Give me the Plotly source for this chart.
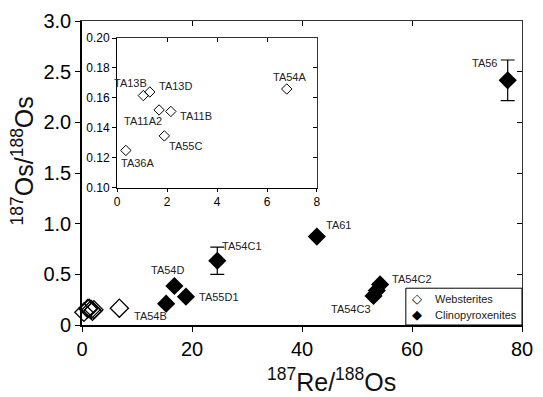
import plotly.graph_objects as go

# Websterites (open diamonds), shown in main plot and inset
web_names = ["TA36A", "TA13B", "TA13D", "TA11A2", "TA11B", "TA55C", "TA54A"]
web_main_labels = ["", "", "", "", "", "", "TA54B"]
web_x = [0.35, 1.05, 1.31, 1.68, 2.15, 1.89, 6.79]
web_y = [0.125, 0.1616, 0.164, 0.152, 0.151, 0.1347, 0.166]

# Clinopyroxenites (filled diamonds)
cpx_names = ["", "TA54D", "TA55D1", "TA54C1", "TA61", "TA54C3", "", "TA54C2", "TA56"]
cpx_x = [15.3, 16.8, 18.9, 24.6, 42.7, 53.0, 53.6, 54.2, 77.4]
cpx_y = [0.21, 0.385, 0.28, 0.634, 0.873, 0.287, 0.34, 0.40, 2.415]
cpx_err = [None, None, None, 0.135, None, None, None, None, 0.2]

main_xticks = [0, 20, 40, 60, 80]
main_yticks = [0, 0.5, 1.0, 1.5, 2.0, 2.5, 3.0]
main_yticktext = ["0", "0.5", "1.0", "1.5", "2.0", "2.5", "3.0"]
inset_xticks = [0, 2, 4, 6, 8]
inset_yticks = [0.10, 0.12, 0.14, 0.16, 0.18, 0.20]

legend_names = ["Websterites", "Clinopyroxenites"]
legend_glyphs = ["\u25C7", "\u25C6"]

# label offsets (pixels) and anchors
cpx_lab = {
    "TA54D": ("center", -7, 16), "TA55D1": ("left", 11, 0), "TA54C1": ("left", 3, 15),
    "TA61": ("left", 7, 12), "TA54C3": ("right", -1, -13), "TA54C2": ("left", 10, 5),
    "TA56": ("right", -9, 17),
}
web_main_lab = {"TA54B": ("left", 13, -8)}
web_inset_lab = {
    "TA36A": ("center", 12, -13), "TA13B": ("right", 6, 13), "TA13D": ("left", 7, 6),
    "TA11A2": ("center", -16, -11), "TA11B": ("left", 7, -5), "TA55C": ("left", 3, -10),
    "TA54A": ("center", 3, 12),
}

FONT = "Arial, Liberation Sans, sans-serif"
fig = go.Figure()

fig.add_trace(go.Scatter(
    x=web_x, y=web_y, mode="markers", name="Websterites", showlegend=False,
    marker=dict(symbol="diamond-open", size=14, color="black", line=dict(width=1.3)),
    cliponaxis=False, xaxis="x", yaxis="y"))
fig.add_trace(go.Scatter(
    x=cpx_x, y=cpx_y, mode="markers", name="Clinopyroxenites", showlegend=False,
    marker=dict(symbol="diamond", size=14, color="black"),
    error_y=dict(type="data", array=cpx_err, symmetric=True, color="black", thickness=1.2, width=7),
    cliponaxis=False, xaxis="x", yaxis="y"))
fig.add_trace(go.Scatter(
    x=web_x, y=web_y, mode="markers", showlegend=False,
    marker=dict(symbol="diamond-open", size=8, color="black", line=dict(width=1)),
    cliponaxis=False, xaxis="x2", yaxis="y2"))

ann = []
for n, x, y in zip(cpx_names, cpx_x, cpx_y):
    if n in cpx_lab:
        a, dx, dy = cpx_lab[n]
        ann.append(dict(x=x, y=y, xref="x", yref="y", text=n, showarrow=False,
                        xanchor=a, yanchor="middle", xshift=dx, yshift=dy,
                        font=dict(size=11, family=FONT, color="#222")))
for n, x, y in zip(web_main_labels, web_x, web_y):
    if n in web_main_lab:
        a, dx, dy = web_main_lab[n]
        ann.append(dict(x=x, y=y, xref="x", yref="y", text=n, showarrow=False,
                        xanchor=a, yanchor="middle", xshift=dx, yshift=dy,
                        font=dict(size=11, family=FONT, color="#222")))
for n, x, y in zip(web_names, web_x, web_y):
    if n in web_inset_lab:
        a, dx, dy = web_inset_lab[n]
        ann.append(dict(x=x, y=y, xref="x2", yref="y2", text=n, showarrow=False,
                        xanchor=a, yanchor="middle", xshift=dx, yshift=dy,
                        font=dict(size=11, family=FONT, color="#222")))

ann.append(dict(x=0.5676, y=-0.182, xref="paper", yref="paper", showarrow=False,
                text="<sup>187</sup>Re/<sup>188</sup>Os", xanchor="center", yanchor="middle",
                font=dict(size=25, family=FONT, color="#111")))
ann.append(dict(x=-0.135, y=0.54, xref="paper", yref="paper", showarrow=False, textangle=-90,
                text="<sup>187</sup>Os/<sup>188</sup>Os", xanchor="center", yanchor="middle",
                font=dict(size=25, family=FONT, color="#111")))

# hand-made legend box in the lower right corner
leg_rows_y = [0.086, 0.034]
for name, glyph, ly in zip(legend_names, legend_glyphs, leg_rows_y):
    ann.append(dict(x=0.7605, y=ly, xref="paper", yref="paper", showarrow=False, text=glyph,
                    xanchor="center", yanchor="middle",
                    font=dict(size=13, family="DejaVu Sans", color="black")))
    ann.append(dict(x=0.797, y=ly, xref="paper", yref="paper", showarrow=False, text=name,
                    xanchor="left", yanchor="middle",
                    font=dict(size=11, family=FONT, color="#222")))
shapes = [dict(type="rect", xref="paper", yref="paper", x0=0.736, x1=1.0, y0=0.0, y1=0.121,
               line=dict(color="black", width=1), fillcolor="white", layer="above")]

ax_common = dict(showgrid=False, zeroline=False, color="black")
inset_dom_x = [0.0798, 0.534]
inset_dom_y = [0.451, 0.944]

fig.update_layout(
    width=543, height=397,
    margin=dict(l=82, r=10, t=19, b=72),
    paper_bgcolor="white", plot_bgcolor="white",
    font=dict(family=FONT, color="black"),
    annotations=ann, shapes=shapes, showlegend=False,
    xaxis=dict(range=[0, 80], tickvals=main_xticks, ticks="outside", ticklen=5,
               showline=True, linewidth=1.6, linecolor="black",
               tickfont=dict(size=20), **ax_common),
    yaxis=dict(range=[0, 3], tickvals=main_yticks, ticktext=main_yticktext, ticks="outside",
               ticklen=5, showline=True, linewidth=1.6, linecolor="black",
               tickfont=dict(size=20), **ax_common),
    xaxis3=dict(range=[0, 80], overlaying="x", side="top", anchor="y", tickvals=main_xticks,
                ticks="inside", ticklen=5, showticklabels=False, showline=True,
                linewidth=1, linecolor="#333", **ax_common),
    yaxis3=dict(range=[0, 3], overlaying="y", side="right", anchor="x", tickvals=main_yticks,
                ticks="inside", ticklen=5, showticklabels=False, showline=True,
                linewidth=1, linecolor="#333", **ax_common),
    xaxis2=dict(domain=inset_dom_x, anchor="y2", range=[0, 8], tickvals=inset_xticks,
                ticks="outside", ticklen=3, showline=True, linewidth=1.2, linecolor="black",
                tickfont=dict(size=12), **ax_common),
    yaxis2=dict(domain=inset_dom_y, anchor="x2", range=[0.10, 0.20], tickvals=inset_yticks,
                tickformat=".2f", ticks="outside", ticklen=4, showline=True, linewidth=1.2,
                linecolor="black", tickfont=dict(size=12), **ax_common),
    xaxis4=dict(range=[0, 8], overlaying="x2", side="top", anchor="y2", tickvals=inset_xticks,
                ticks="inside", ticklen=4, showticklabels=False, showline=True, linewidth=1,
                linecolor="#333", **ax_common),
    yaxis4=dict(range=[0.10, 0.20], overlaying="y2", side="right", anchor="x2",
                tickvals=inset_yticks, ticks="inside", ticklen=4, showticklabels=False,
                showline=True, linewidth=1, linecolor="#333", **ax_common),
)

# invisible traces so the mirror axes are drawn
fig.add_trace(go.Scatter(x=[None], y=[None], xaxis="x3", yaxis="y3", showlegend=False, hoverinfo="skip"))
fig.add_trace(go.Scatter(x=[None], y=[None], xaxis="x4", yaxis="y4", showlegend=False, hoverinfo="skip"))

fig.write_html("out.html")
